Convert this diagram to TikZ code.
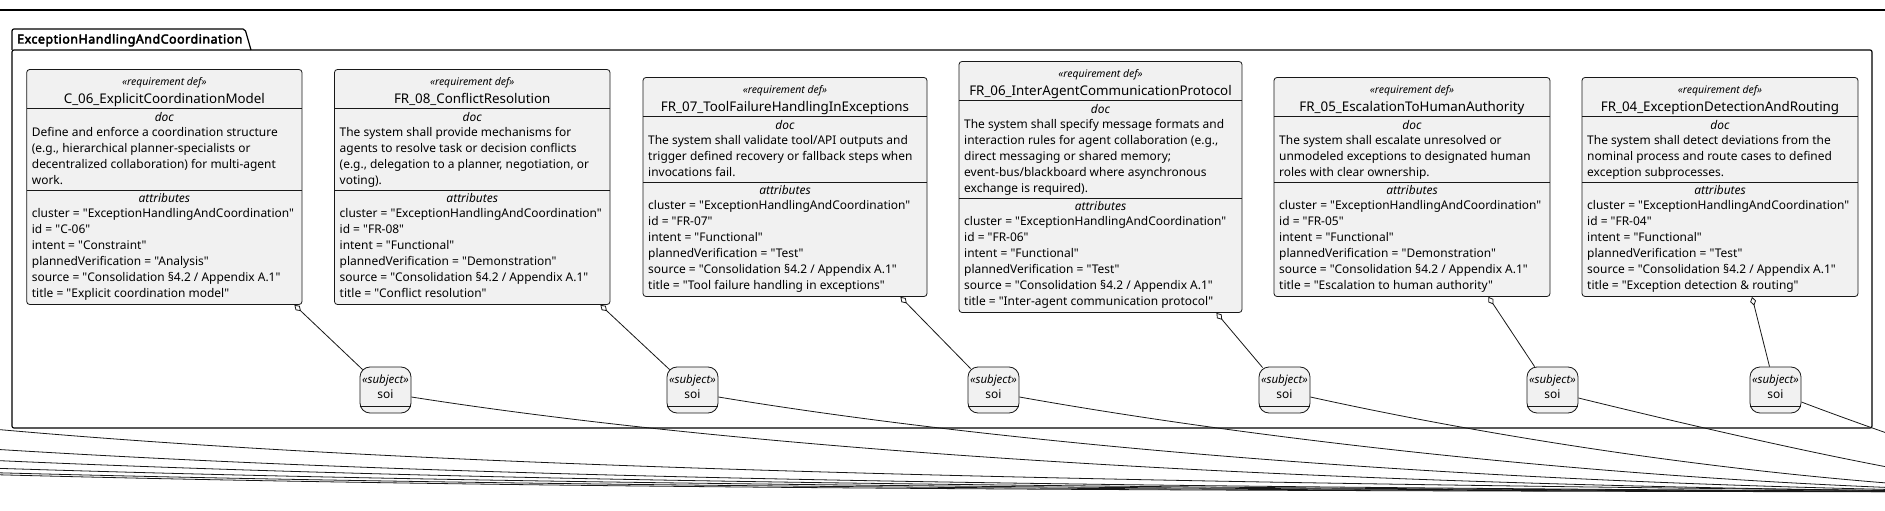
\documentclass[tikz,border=0pt]{standalone}
\usepackage{fontspec}
\setmainfont{Noto Sans}[Ligatures=TeXOff]
\newfontfamily\pkgfont{Noto Sans}[Ligatures=TeXOff,FakeBold=3.2,LetterSpace=4]
\usetikzlibrary{arrows.meta,calc}
\definecolor{boxfill}{HTML}{F1F1F1}
\definecolor{edgec}{HTML}{181818}
\newcommand{\stk}[1]{\vtop{\baselineskip=16bp\lineskiplimit=-20bp\lineskip=0pt\relax #1}}
\newcommand{\attrset}[4]{\hbox{cluster = "ExceptionHandlingAndCoordination"}\hbox{id = "#1"}\hbox{intent = "#2"}\hbox{plannedVerification = "#3"}\hbox{source = "Consolidation §4.2 / Appendix A.1"}\hbox{title = "#4"}}
% #1 id, #2 left, #3 right, #4 doc lines, #5 name, #6 doc, #7 attributes
\newcommand{\reqbox}[7]{%
  \pgfmathsetmacro\rT{187-(171+16*#4)/2}%
  \pgfmathsetmacro\rB{\rT+171+16*#4}%
  \pgfmathsetmacro\rA{\rT+39}%
  \pgfmathsetmacro\rC{\rA+18+16*#4}%
  \pgfmathsetmacro\rM{(#2+#3)/2}%
  \pgfmathsetmacro\rW{#3-#2}%
  \pgfmathsetmacro\rH{\rB-\rT}%
  \node[reqbox, minimum width=\rW bp, minimum height=\rH bp] (#1) at (\rM,{(\rT+\rB)/2}) {};
  \draw[sepline] (#2,\rA) -- (#3,\rA);
  \draw[sepline] (#2,\rC) -- (#3,\rC);
  \node[stereo, anchor=base] (#1st) at (\rM,\rT+16.5) {«requirement def»};
  \node[nm, anchor=base] (#1nm) at (\rM,\rT+34) {#5};
  \node[lbl, anchor=base] (#1dl) at (\rM,\rA+13) {doc};
  \node[body] (#1doc) at (#2+5,\rA+28) {\stk{#6}};
  \node[lbl, anchor=base] (#1al) at (\rM,\rC+12.5) {attributes};
  \node[body] (#1at) at (#2+5,\rC+27.5) {\stk{#7}};
}
% #1 id, #2 center x
\newcommand{\soibox}[2]{%
  \node[soishape] (#1) at (#2,390) {};
  \draw[sepline] (#1.west |- 0,406) -- (#1.east |- 0,406);
  \node[subjst, anchor=base] (#1st) at (#2,383) {«subject»};
  \node[soitxt, anchor=base] (#1nm) at (#2,398) {soi};
}
\begin{document}
\begin{tikzpicture}[x=1bp,y=-1bp,
  reqbox/.style={draw=edgec, fill=boxfill, rounded corners=3bp, line width=0.8bp, inner sep=0pt},
  soishape/.style={draw=edgec, fill=boxfill, rounded corners=10bp, line width=0.8bp, inner sep=0pt, minimum width=51bp, minimum height=46bp},
  sepline/.style={draw=edgec, line width=0.8bp},
  stereo/.style={font=\fontsize{10.5}{12}\selectfont\itshape, inner sep=0pt},
  nm/.style={font=\fontsize{13.4}{16}\selectfont, inner sep=0pt},
  lbl/.style={font=\fontsize{12}{16}\selectfont\itshape, inner sep=0pt},
  body/.style={font=\fontsize{12}{16}\selectfont, inner sep=0pt, anchor=base west},
  subjst/.style={font=\fontsize{11.5}{14}\selectfont\itshape, inner sep=0pt},
  soitxt/.style={font=\fontsize{12}{14}\selectfont, inner sep=0pt},
  pkgbody/.style={draw=black, line width=1.2bp, fill=white, rounded corners=2bp, inner sep=0pt},
  pkgline/.style={draw=black, line width=1.2bp},
  pkglabel/.style={font=\fontsize{12.5}{15}\pkgfont, inner sep=0pt},
  subj/.style={draw=edgec, line width=0.8bp, arrows={Diamond[open,length=9bp,width=6bp]-}},
  flow/.style={draw=edgec, line width=0.8bp}]
\useasboundingbox (0,0) rectangle (1885,511);
\fill[white] (0,0) rectangle (1885,511);
\clip (0,0) rectangle (1885,511);
\draw[pkgline] (-5,10) -- (1890,10);
\node[pkgbody, minimum width=1860bp, minimum height=378bp] (pkg) at (942,239) {};
\draw[pkgline, rounded corners=2bp] (12,50) -- (12,29) -- (245,29) -- (251,50);
\node[pkglabel, anchor=base west] (pkgname) at (17,43.5) {ExceptionHandlingAndCoordination};

\reqbox{r1}{26.7}{302}{4}{C\_06\_ExplicitCoordinationModel}
 {\hbox{Define and enforce a coordination structure}\hbox{(e.g., hierarchical planner-specialists or}\hbox{decentralized collaboration) for multi-agent}\hbox{work.}}
 {\attrset{C-06}{Constraint}{Analysis}{Explicit coordination model}}
\reqbox{r2}{334.5}{610}{4}{FR\_08\_ConflictResolution}
 {\hbox{The system shall provide mechanisms for}\hbox{agents to resolve task or decision conflicts}\hbox{(e.g., delegation to a planner, negotiation, or}\hbox{voting).}}
 {\attrset{FR-08}{Functional}{Demonstration}{Conflict resolution}}
\reqbox{r3}{643}{927}{3}{FR\_07\_ToolFailureHandlingInExceptions}
 {\hbox{The system shall validate tool/API outputs and}\hbox{trigger defined recovery or fallback steps when}\hbox{invocations fail.}}
 {\attrset{FR-07}{Functional}{Test}{Tool failure handling in exceptions}}
\reqbox{r4}{959}{1242}{5}{FR\_06\_InterAgentCommunicationProtocol}
 {\hbox{The system shall specify message formats and}\hbox{interaction rules for agent collaboration (e.g.,}\hbox{direct messaging or shared memory;}\hbox{event-bus/blackboard where asynchronous}\hbox{exchange is required).}}
 {\attrset{FR-06}{Functional}{Test}{Inter-agent communication protocol}}
\reqbox{r5}{1274}{1550}{3}{FR\_05\_EscalationToHumanAuthority}
 {\hbox{The system shall escalate unresolved or}\hbox{unmodeled exceptions to designated human}\hbox{roles with clear ownership.}}
 {\attrset{FR-05}{Functional}{Demonstration}{Escalation to human authority}}
\reqbox{r6}{1582}{1858}{3}{FR\_04\_ExceptionDetectionAndRouting}
 {\hbox{The system shall detect deviations from the}\hbox{nominal process and route cases to defined}\hbox{exception subprocesses.}}
 {\attrset{FR-04}{Functional}{Test}{Exception detection \& routing}}

\soibox{s1}{385.5}
\soibox{s2}{692.5}
\soibox{s3}{993.5}
\soibox{s4}{1284.5}
\soibox{s5}{1552.5}
\soibox{s6}{1775.5}

\draw[subj] ($(r1.south east)+(-8,0)$) -- ($(s1.north west)+(3,3)$);
\draw[subj] ($(r2.south east)+(-10,0)$) -- ($(s2.north west)+(3,3)$);
\draw[subj] ($(r3.south east)+(-27,0)$) -- ($(s3.north west)+(3,2)$);
\draw[subj] ($(r4.south east)+(-26,0)$) -- ($(s4.north west)+(4,1)$);
\draw[subj] ($(r5.south east)+(-62,0)$) -- ($(s5.north west)+(8,0)$);
\draw[subj] ($(r6.south)+(32,0)$) -- ($(s6.north)+(-6,0)$);

\coordinate (far) at (2060,492);
\draw[flow] ($(s1.east)+(0,7)$) .. controls (800,458) and (1400,489) .. (far);
\draw[flow] ($(s2.east)+(0,7)$) .. controls (1050,452) and (1550,488) .. (far);
\draw[flow] ($(s3.east)+(0,7)$) .. controls (1300,447) and (1700,488) .. (far);
\draw[flow] ($(s4.east)+(0,7)$) .. controls (1560,452) and (1850,488) .. (far);
\draw[flow] ($(s5.east)+(0,8)$) .. controls (1750,440) and (1950,485) .. (far);
\draw[flow] ($(s6.east)+(0,12)$) .. controls (1880,432) and (2000,472) .. (far);

\coordinate (w1) at (-100,420);
\coordinate (w2) at (-100,443);
\coordinate (w3) at (-100,456);
\coordinate (w4) at (-100,465);
\coordinate (w5) at (-100,470);
\coordinate (w6) at (-100,472);
\draw[flow] (w1) .. controls (300,462) and (900,482) .. (far);
\draw[flow] (w2) .. controls (400,478) and (1000,487) .. (far);
\draw[flow] (w3) .. controls (400,481) and (1000,488) .. (far);
\draw[flow] (w4) .. controls (400,483) and (1000,489) .. (far);
\draw[flow] (w5) .. controls (400,485) and (1000,490) .. (far);
\draw[flow] (w6) .. controls (400,487) and (1000,491) .. (far);
\end{tikzpicture}
\end{document}
